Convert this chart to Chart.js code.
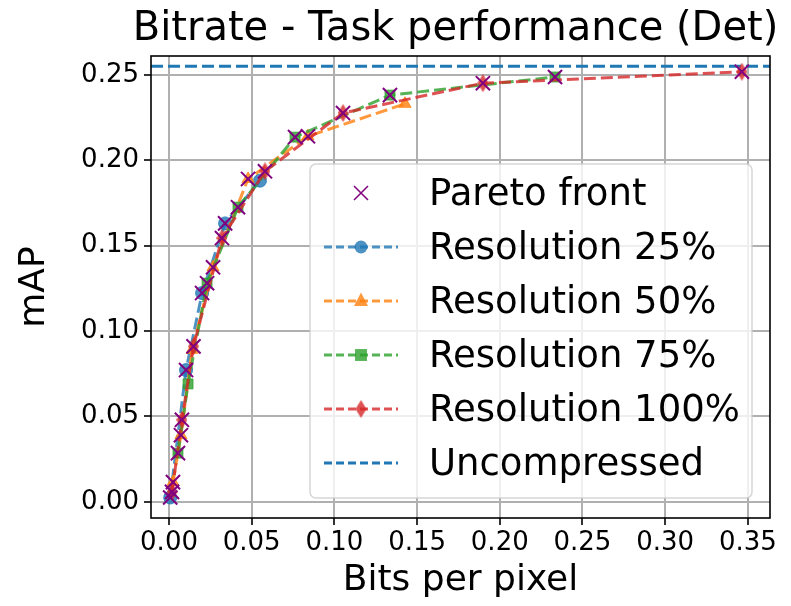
<!DOCTYPE html>
<html>
<head>
<meta charset="utf-8">
<script src="https://cdn.jsdelivr.net/npm/chart.js@4.4.0/dist/chart.umd.min.js"></script>
<style>
    html, body { margin: 0; padding: 0; background: #fff; }
    #wrap { width: 791px; height: 606px; }
</style>
</head>
<body>
<div id="wrap"><canvas id="chart" width="791" height="606"></canvas></div>
<script>
// Values (bits per pixel -> mAP)
const res25X = [0.0007, 0.0103, 0.0200, 0.0339, 0.0550];
const res25Y = [0.0025, 0.0771, 0.1222, 0.1630, 0.1880];

const res50X = [0.0024, 0.0072, 0.0140, 0.0266, 0.0478, 0.0840, 0.1427];
const res50Y = [0.0115, 0.0390, 0.0890, 0.1373, 0.1890, 0.2140, 0.2330];

const res75X = [0.0054, 0.0115, 0.0230, 0.0417, 0.0762, 0.1336, 0.2334];
const res75Y = [0.0285, 0.0690, 0.1280, 0.1725, 0.2135, 0.2381, 0.2487];

const res100X = [0.0018, 0.0078, 0.0148, 0.0320, 0.0580, 0.1052, 0.1898, 0.3464];
const res100Y = [0.0058, 0.0480, 0.0910, 0.1544, 0.1935, 0.2276, 0.2451, 0.2518];

const paretoX = [0.0007, 0.0018, 0.0024, 0.0054, 0.0072, 0.0078, 0.0103, 0.0148, 0.0200, 0.0230, 0.0266,
                 0.0320, 0.0339, 0.0417, 0.0478, 0.0580, 0.0762, 0.0840, 0.1052, 0.1336, 0.1898, 0.2334, 0.3464];
const paretoY = [0.0025, 0.0058, 0.0115, 0.0285, 0.0390, 0.0480, 0.0771, 0.0910, 0.1222, 0.1280, 0.1373,
                 0.1544, 0.1630, 0.1725, 0.1890, 0.1935, 0.2135, 0.2140, 0.2276, 0.2381, 0.2451, 0.2487, 0.2518];

const uncompressed = 0.255;

const xTicks = [0.00, 0.05, 0.10, 0.15, 0.20, 0.25, 0.30, 0.35];
const yTicks = [0.00, 0.05, 0.10, 0.15, 0.20, 0.25];
const xMin = -0.0109, xMax = 0.3634;
const yMin = -0.0095, yMax = 0.261;

const FONT = 'DejaVu Sans';

function pts(xs, ys) {
    return xs.map((x, i) => ({ x: x, y: ys[i] }));
}

// matplotlib-style thin diamond marker
function thinDiamond(color, w, h) {
    const c = document.createElement('canvas');
    c.width = w;
    c.height = h;
    const g = c.getContext('2d');
    g.fillStyle = color;
    g.beginPath();
    g.moveTo(w / 2, 0);
    g.lineTo(w, h / 2);
    g.lineTo(w / 2, h);
    g.lineTo(0, h / 2);
    g.closePath();
    g.fill();
    return c;
}

const blue = 'rgba(31,119,180,0.8)';
const orange = 'rgba(255,127,14,0.8)';
const green = 'rgba(44,160,44,0.8)';
const red = 'rgba(214,39,40,0.8)';

function series(label, xs, ys, color, style, radius, order) {
    return {
        label: label,
        data: pts(xs, ys),
        showLine: true,
        borderColor: color,
        backgroundColor: color,
        borderWidth: 3,
        borderDash: [12, 5],
        pointStyle: style,
        pointRadius: radius,
        pointBorderWidth: 1,
        pointBorderColor: color,
        pointBackgroundColor: color,
        order: order
    };
}

// axes frame on top of the lines
const frame = {
    id: 'frame',
    afterDatasetsDraw(chart) {
        const a = chart.chartArea, ctx = chart.ctx;
        ctx.save();
        ctx.strokeStyle = '#000';
        ctx.lineWidth = 1.6;
        ctx.strokeRect(a.left, a.top, a.right - a.left, a.bottom - a.top);
        ctx.restore();
    }
};

function drawMarker(ctx, ds, x, y) {
    const st = ds.pointStyle;
    const r = ds.legendRadius || ds.pointRadius;
    ctx.fillStyle = ds.pointBackgroundColor || ds.borderColor;
    ctx.strokeStyle = ds.pointBorderColor || ds.borderColor;
    ctx.setLineDash([]);
    if (st instanceof HTMLCanvasElement) {
        ctx.drawImage(st, x - st.width / 2, y - st.height / 2);
        return;
    }
    ctx.beginPath();
    if (st === 'circle') {
        ctx.arc(x, y, r, 0, Math.PI * 2);
        ctx.fill();
    } else if (st === 'triangle') {
        ctx.moveTo(x, y - r * 1.2);
        ctx.lineTo(x + r, y + r * 0.7);
        ctx.lineTo(x - r, y + r * 0.7);
        ctx.closePath();
        ctx.fill();
    } else if (st === 'rect') {
        ctx.rect(x - r * 0.85, y - r * 0.85, r * 1.7, r * 1.7);
        ctx.fill();
    } else if (st === 'crossRot') {
        ctx.lineWidth = 1.5;
        const d = r * 0.7;
        ctx.moveTo(x - d, y - d); ctx.lineTo(x + d, y + d);
        ctx.moveTo(x + d, y - d); ctx.lineTo(x - d, y + d);
        ctx.stroke();
    }
}

// legend drawn inside the plot, lower right, semi transparent
const legendBox = {
    id: 'legendBox',
    afterDraw(chart) {
        const ctx = chart.ctx, a = chart.chartArea;
        const w = 442, h = 334;
        const x0 = a.right - 18 - w, y0 = a.bottom - 20 - h;
        ctx.save();
        ctx.beginPath();
        ctx.roundRect(x0, y0, w, h, 6);
        ctx.fillStyle = 'rgba(255,255,255,0.8)';
        ctx.fill();
        ctx.strokeStyle = 'rgba(204,204,204,0.8)';
        ctx.lineWidth = 1.5;
        ctx.stroke();

        chart.data.datasets.forEach((ds, i) => {
            const cy = y0 + 29 + i * 54;
            const lx = x0 + 14, rx = x0 + 88, mx = (lx + rx) / 2;
            if (ds.showLine) {
                ctx.beginPath();
                ctx.setLineDash([8, 4]);
                ctx.strokeStyle = ds.borderColor;
                ctx.lineWidth = ds.borderWidth;
                ctx.moveTo(lx, cy);
                ctx.lineTo(rx, cy);
                ctx.stroke();
            }
            if (ds.pointRadius > 0) drawMarker(ctx, ds, mx, cy);
            ctx.fillStyle = '#000';
            ctx.font = '37px "' + FONT + '"';
            ctx.textBaseline = 'middle';
            ctx.textAlign = 'left';
            ctx.fillText(ds.label, x0 + 119, cy + 2);
        });
        ctx.restore();
    }
};

// title centred over the axes, like matplotlib
const plotTitle = {
    id: 'plotTitle',
    afterDraw(chart) {
        const ctx = chart.ctx, a = chart.chartArea;
        ctx.save();
        ctx.fillStyle = '#000';
        ctx.font = '40px "' + FONT + '"';
        ctx.textAlign = 'center';
        ctx.textBaseline = 'alphabetic';
        ctx.fillText('Bitrate - Task performance (Det)', (a.left + a.right) / 2 - 5, 40);
        ctx.restore();
    }
};

const ctx = document.getElementById('chart');
new Chart(ctx, {
    type: 'scatter',
    data: {
        datasets: [
            {
                label: 'Pareto front',
                data: pts(paretoX, paretoY),
                showLine: false,
                pointStyle: 'crossRot',
                pointRadius: 10,
                pointBorderWidth: 2,
                pointBorderColor: 'purple',
                pointBackgroundColor: 'purple',
                borderColor: 'purple',
                backgroundColor: 'purple',
                legendRadius: 10,
                order: 0
            },
            series('Resolution 25%', res25X, res25Y, blue, 'circle', 6.5, 5),
            series('Resolution 50%', res50X, res50Y, orange, 'triangle', 7, 4),
            series('Resolution 75%', res75X, res75Y, green, 'rect', 7, 3),
            series('Resolution 100%', res100X, res100Y, red, thinDiamond(red, 11, 18), 7, 2),
            {
                label: 'Uncompressed',
                data: [{ x: xMin, y: uncompressed }, { x: xMax, y: uncompressed }],
                showLine: true,
                borderColor: '#1f77b4',
                backgroundColor: '#1f77b4',
                borderWidth: 3,
                borderDash: [12, 5],
                pointRadius: 0,
                order: 6
            }
        ]
    },
    options: {
        responsive: false,
        animation: false,
        devicePixelRatio: 1,
        layout: {
            padding: { top: 56, right: 21, bottom: 0, left: 0 }
        },
        plugins: {
            legend: { display: false },
            tooltip: { enabled: false },
            title: { display: false }
        },
        scales: {
            x: {
                type: 'linear',
                min: xMin,
                max: xMax,
                afterBuildTicks: function(scale) {
                    scale.ticks = xTicks.map(v => ({ value: v }));
                },
                afterFit: function(scale) {
                    scale.height = 88;
                },
                ticks: {
                    callback: function(value) {
                        return value.toFixed(2);
                    },
                    font: { family: FONT, size: 26 },
                    color: '#000',
                    padding: 3,
                    maxRotation: 0,
                    autoSkip: false
                },
                grid: {
                    color: '#b0b0b0',
                    lineWidth: 2,
                    tickColor: '#000',
                    tickLength: 7,
                    tickWidth: 1.6
                },
                border: { display: false },
                title: {
                    display: true,
                    text: 'Bits per pixel',
                    font: { family: FONT, size: 36 },
                    color: '#000',
                    padding: { top: 0, bottom: 4 }
                }
            },
            y: {
                type: 'linear',
                min: yMin,
                max: yMax,
                afterBuildTicks: function(scale) {
                    scale.ticks = yTicks.map(v => ({ value: v }));
                },
                afterFit: function(scale) {
                    scale.width = 151;
                },
                ticks: {
                    callback: function(value) {
                        return value.toFixed(2);
                    },
                    font: { family: FONT, size: 26 },
                    color: '#000',
                    padding: 5,
                    autoSkip: false
                },
                grid: {
                    color: '#b0b0b0',
                    lineWidth: 2,
                    tickColor: '#000',
                    tickLength: 7,
                    tickWidth: 1.6
                },
                border: { display: false },
                title: {
                    display: true,
                    text: 'mAP',
                    font: { family: FONT, size: 36 },
                    color: '#000',
                    padding: { top: 13, bottom: 0 }
                }
            }
        }
    },
    plugins: [frame, legendBox, plotTitle]
});
</script>
</body>
</html>
